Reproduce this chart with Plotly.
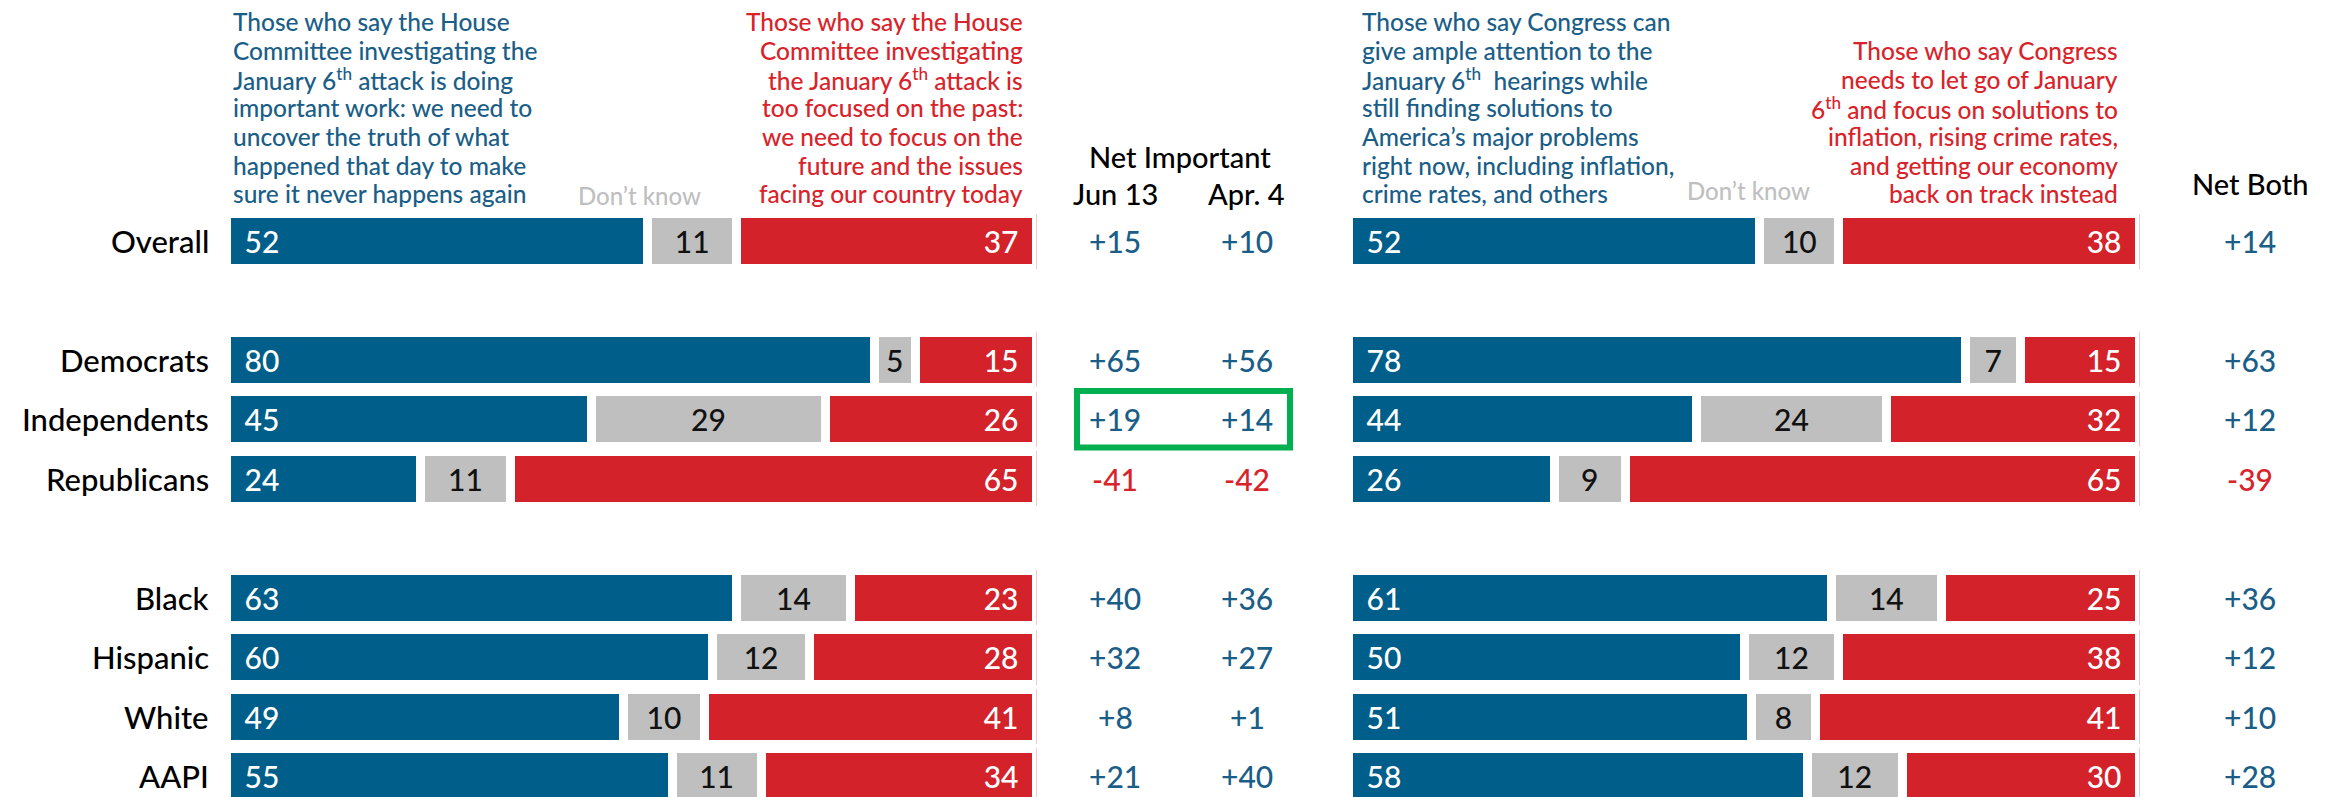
import plotly.graph_objects as go

# ---------------- data ----------------
groups = ["Overall", "Democrats", "Independents", "Republicans", "Black", "Hispanic", "White", "AAPI"]

house_important = [52, 80, 45, 24, 63, 60, 49, 55]
house_dontknow = [11, 5, 29, 11, 14, 12, 10, 11]
house_past = [37, 15, 26, 65, 23, 28, 41, 34]

net_jun13 = [15, 65, 19, -41, 40, 32, 8, 21]
net_apr4 = [10, 56, 14, -42, 36, 27, 1, 40]

cong_both = [52, 78, 44, 26, 61, 50, 51, 58]
cong_dontknow = [10, 7, 24, 9, 14, 12, 8, 12]
cong_letgo = [38, 15, 32, 65, 25, 38, 41, 30]

net_both = [14, 63, 12, -39, 36, 12, 10, 28]

hdr_left_blue = ["Those who say the House", "Committee investigating the",
                 "January 6<sup>th</sup> attack is doing", "important work: we need to",
                 "uncover the truth of what", "happened that day to make",
                 "sure it never happens again"]
hdr_left_red = ["Those who say the House", "Committee investigating",
                "the January 6<sup>th</sup> attack is", "too focused on the past:",
                "we need to focus on the", "future and the issues",
                "facing our country today"]
hdr_right_blue = ["Those who say Congress can", "give ample attention to the",
                  "January 6<sup>th</sup>  hearings while", "still finding solutions to",
                  "America’s major problems", "right now, including inflation,",
                  "crime rates, and others"]
hdr_right_red = ["Those who say Congress", "needs to let go of January",
                 "6<sup>th</sup> and focus on solutions to", "inflation, rising crime rates,",
                 "and getting our economy", "back on track instead"]

# ---------------- style ----------------
W, H = 2336, 797
BLUE = "#005E8A"
RED = "#D3222A"
GRAY = "#BFBFBF"
TXT_BLUE = "#1A5E88"
TXT_RED = "#D9232A"
FONT = "Lato, Roboto, 'Open Sans', sans-serif"
WT = 500

row_pos = [0, 2, 3, 4, 6, 7, 8, 9]
y_px0, y_unit = 241, 59.44          # pixel of row 0, pixels per row unit
y_top = 0 - y_px0 / y_unit
y_bot = y_top + H / y_unit

GAP = 9  # white separator between segments (px)
PAD = "\u2002"

def px(x):
    return x / W

def py(y):
    return 1 - y / H

def f(size, color):
    return dict(size=size, color=color, family=FONT, weight=WT)

fig = go.Figure()

def add_stack(vals_b, vals_g, vals_r, xa):
    common = dict(orientation="h", y=row_pos, xaxis=xa, yaxis="y",
                  width=(46 + GAP) / y_unit, textposition="inside",
                  constraintext="none", hoverinfo="skip",
                  marker_line=dict(color="white", width=GAP))
    fig.add_trace(go.Bar(x=vals_b, text=[PAD + str(v) for v in vals_b],
                         marker_color=BLUE, insidetextanchor="start",
                         textfont=f(30, "white"), **common))
    fig.add_trace(go.Bar(x=vals_g, text=[str(v) for v in vals_g],
                         marker_color=GRAY, insidetextanchor="middle",
                         textfont=f(30, "#111111"), **common))
    fig.add_trace(go.Bar(x=vals_r, text=[str(v) + PAD for v in vals_r],
                         marker_color=RED, insidetextanchor="end",
                         textfont=f(30, "white"), **common))

add_stack(house_important, house_dontknow, house_past, "x")
add_stack(cong_both, cong_dontknow, cong_letgo, "x2")

ann = []
# group labels
for g, yp in zip(groups, row_pos):
    ann.append(dict(x=px(211), xref="paper", y=yp, yref="y", text=g, showarrow=False,
                    xanchor="right", yanchor="middle", font=f(31, "#000000")))

def net_text(v):
    return ("+" if v > 0 else "") + str(v)

def net_col(vals, xc):
    for v, yp in zip(vals, row_pos):
        ann.append(dict(x=px(xc), xref="paper", y=yp, yref="y", text=net_text(v),
                        showarrow=False, xanchor="center", yanchor="middle",
                        font=f(30, TXT_BLUE if v >= 0 else TXT_RED)))

net_col(net_jun13, 1115)
net_col(net_apr4, 1247)
net_col(net_both, 2250)

# column headers
def lab(text, x, y, size, color, anchor="center"):
    ann.append(dict(x=px(x), xref="paper", y=py(y), yref="paper", text=text,
                    showarrow=False, xanchor=anchor, yanchor="middle", font=f(size, color)))

lab("Net Important", 1180, 156, 29, "#000")
lab("Jun 13", 1115, 193, 29, "#000")
lab("Apr. 4", 1246, 193, 29, "#000")
lab("Net Both", 2250, 183, 29, "#000")
lab("Don’t know", 639, 195, 24, GRAY)
lab("Don’t know", 1748, 190, 24, GRAY)

# multi-line headers (one annotation per line for tight leading)
def header(lines, x, anchor, color, first_line=0):
    for i, line in enumerate(lines):
        ypix = 21.7 + 28.7 * (i + first_line)
        lab(line, x, ypix, 24.5, color, anchor)

header(hdr_left_blue, 231, "left", TXT_BLUE)
header(hdr_left_red, 1025, "right", TXT_RED)
header(hdr_right_blue, 1360, "left", TXT_BLUE)
header(hdr_right_red, 2120, "right", TXT_RED, first_line=1)

# green highlight box around Independents net values
ind = row_pos[groups.index("Independents")]
shapes = [dict(type="rect", xref="paper", yref="y", x0=px(1077), x1=px(1290),
               y0=ind - 0.475, y1=ind + 0.475, line=dict(color="#00B050", width=6),
               fillcolor="rgba(0,0,0,0)")]

fig.update_layout(
    width=W, height=H,
    margin=dict(l=0, r=0, t=0, b=0),
    paper_bgcolor="white", plot_bgcolor="white",
    barmode="stack", showlegend=False,
    annotations=ann, shapes=shapes,
    xaxis=dict(domain=[px(231 - GAP / 2), px(1032 + GAP / 2)], range=[0, 100],
               visible=False, fixedrange=True),
    xaxis2=dict(domain=[px(1353 - GAP / 2), px(2135 + GAP / 2)], range=[0, 100],
                visible=False, anchor="y", fixedrange=True),
    yaxis=dict(range=[y_bot, y_top], visible=False, fixedrange=True),
    font=dict(family=FONT),
)

fig.write_html("out.html", config={"displayModeBar": False},
               post_script="document.body.style.margin='0';document.body.style.overflow='hidden';")
